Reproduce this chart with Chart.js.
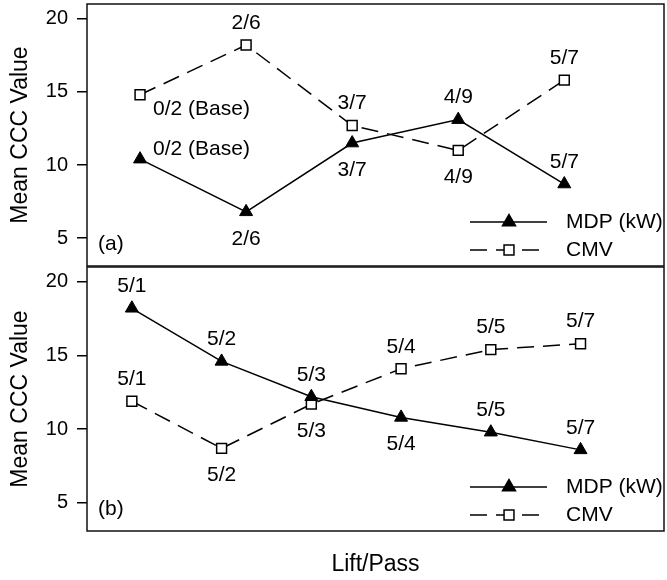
<!DOCTYPE html>
<html>
<head>
<meta charset="utf-8">
<script src="https://cdn.jsdelivr.net/npm/chart.js@4.4.1/dist/chart.umd.min.js"></script>
<style>
  html, body { margin: 0; padding: 0; background: #fff; }
  #wrap { position: relative; width: 667px; height: 580px; }
  .panel { position: absolute; left: 0; width: 667px; }
  #panelA { top: 0; height: 268px; }
  #panelB { top: 266px; height: 314px; }
</style>
</head>
<body>
<div id="wrap">
  <div class="panel" id="panelA"><canvas id="chartA"></canvas></div>
  <div class="panel" id="panelB"><canvas id="chartB"></canvas></div>
</div>
<script>
// Lift/pass sequences and mean CCC values
const passesA = ['0/2 (Base)', '2/6', '3/7', '4/9', '5/7'];
const mdpA = [10.4, 6.8, 11.5, 13.1, 8.7];
const cmvA = [14.8, 18.2, 12.7, 11.0, 15.8];

const passesB = ['5/1', '5/2', '5/3', '5/4', '5/5', '5/7'];
const mdpB = [18.2, 14.6, 12.2, 10.8, 9.8, 8.6];
const cmvB = [11.9, 8.7, 11.7, 14.1, 15.4, 15.8];

const yTicks = [5, 10, 15, 20];
const seriesNames = ['MDP (kW)', 'CMV'];

const FONT = 'Arial, "Liberation Sans", Helvetica, sans-serif';

// which side of the marker each pass label goes
const sidesA = {
  mdp: ['baseUp', 'below', 'below', 'above', 'above'],
  cmv: ['baseDown', 'above', 'above', 'below', 'above']
};
const sidesB = {
  mdp: ['above', 'above', 'above', 'below', 'above', 'above'],
  cmv: ['above', 'below', 'below', 'above', 'above', 'above']
};

const toPoints = (vals) => vals.map((v, i) => ({ x: i + 1, y: v }));

// box around the plot area
const framePlugin = {
  id: 'frame',
  afterDraw(chart) {
    const { ctx, chartArea: a } = chart;
    ctx.save();
    ctx.strokeStyle = '#111';
    ctx.lineWidth = 1.5;
    ctx.strokeRect(a.left, a.top, a.right - a.left, a.bottom - a.top);
    ctx.restore();
  }
};

// pass labels next to each marker
const passLabelPlugin = {
  id: 'passLabels',
  afterDatasetsDraw(chart) {
    const { ctx } = chart;
    ctx.save();
    ctx.font = '21px ' + FONT;
    ctx.fillStyle = '#000';
    ctx.textBaseline = 'middle';
    chart.data.datasets.forEach((ds, di) => {
      chart.getDatasetMeta(di).data.forEach((pt, i) => {
        const side = ds.labelSides[i];
        const text = ds.passLabels[i];
        if (side === 'baseUp' || side === 'baseDown') {
          ctx.textAlign = 'left';
          ctx.fillText(text, pt.x + 13, pt.y + (side === 'baseUp' ? -10 : 14));
        } else {
          ctx.textAlign = 'center';
          ctx.fillText(text, pt.x, pt.y + (side === 'above' ? -22 : 27));
        }
      });
    });
    ctx.restore();
  }
};

// legend in the lower right corner plus the (a)/(b) tag
const cornerPlugin = {
  id: 'corner',
  afterDraw(chart, args, opts) {
    const { ctx, chartArea: a } = chart;
    ctx.save();
    ctx.font = '21px ' + FONT;
    ctx.fillStyle = '#000';
    ctx.textBaseline = 'middle';
    ctx.textAlign = 'left';
    ctx.fillText(opts.tag, a.left + 11, a.bottom - 22);

    chart.data.datasets.forEach((ds, di) => {
      const y = a.bottom - 44 + di * 28;
      ctx.strokeStyle = '#000';
      ctx.lineWidth = 1.5;
      ctx.setLineDash(ds.borderDash || []);
      ctx.beginPath();
      ctx.moveTo(a.right - 194, y);
      ctx.lineTo(a.right - 117, y);
      ctx.stroke();
      ctx.setLineDash([]);
      ctx.fillStyle = ds.pointBackgroundColor;
      Chart.helpers.drawPoint(ctx, {
        pointStyle: ds.pointStyle,
        radius: ds.pointRadius,
        borderWidth: 1.5,
        rotation: 0
      }, a.right - 155, y);
      ctx.fillStyle = '#000';
      ctx.fillText(ds.label, a.right - 98, y);
    });
    ctx.restore();
  }
};

function makePanel(canvasId, passes, mdp, cmv, sides, xMax, tag, withXTitle) {
  return new Chart(document.getElementById(canvasId), {
    type: 'line',
    data: {
      datasets: [
        {
          label: seriesNames[0],
          data: toPoints(mdp),
          passLabels: passes,
          labelSides: sides.mdp,
          borderColor: '#000',
          borderWidth: 1.5,
          pointStyle: 'triangle',
          pointRadius: 7.5,
          pointBackgroundColor: '#000',
          pointBorderColor: '#000',
          pointBorderWidth: 1
        },
        {
          label: seriesNames[1],
          data: toPoints(cmv),
          passLabels: passes,
          labelSides: sides.cmv,
          borderColor: '#000',
          borderWidth: 1.5,
          borderDash: [17, 9],
          pointStyle: 'rect',
          pointRadius: 7,
          pointBackgroundColor: '#fff',
          pointBorderColor: '#000',
          pointBorderWidth: 1.5
        }
      ]
    },
    options: {
      responsive: true,
      maintainAspectRatio: false,
      animation: false,
      events: [],
      layout: {
        autoPadding: false,
        padding: { left: 0, right: 3, top: withXTitle ? 1 : 4, bottom: withXTitle ? 0 : 2 }
      },
      plugins: {
        legend: { display: false },
        tooltip: { enabled: false },
        corner: { tag: tag }
      },
      scales: {
        x: {
          type: 'linear',
          min: 0.5,
          max: xMax,
          display: withXTitle,
          grid: { display: false },
          border: { display: false },
          ticks: { display: false },
          title: {
            display: withXTitle,
            text: 'Lift/Pass',
            color: '#000',
            font: { family: FONT, size: 23 },
            padding: { top: 0, bottom: 2 }
          },
          afterFit(scale) {
            scale.height = withXTitle ? 49 : 0;
            scale.paddingLeft = 0;
            scale.paddingRight = 0;
          }
        },
        y: {
          min: 3.1,
          max: 21,
          grid: {
            drawOnChartArea: false,
            drawTicks: true,
            tickLength: 10,
            color: '#000',
            lineWidth: 1.5
          },
          border: { display: false },
          ticks: {
            color: '#000',
            padding: 9,
            font: { family: FONT, size: 20 }
          },
          afterBuildTicks(scale) {
            scale.ticks = yTicks.map(v => ({ value: v }));
          },
          title: {
            display: true,
            text: 'Mean CCC Value',
            color: '#000',
            font: { family: FONT, size: 23 },
            padding: { top: 7, bottom: 0 }
          },
          afterFit(scale) {
            scale.width = 87;
            scale.paddingTop = 0;
            scale.paddingBottom = 0;
          }
        }
      }
    },
    plugins: [framePlugin, passLabelPlugin, cornerPlugin]
  });
}

makePanel('chartA', passesA, mdpA, cmvA, sidesA, 5.94, '(a)', false);
makePanel('chartB', passesB, mdpB, cmvB, sidesB, 6.93, '(b)', true);
</script>
</body>
</html>
